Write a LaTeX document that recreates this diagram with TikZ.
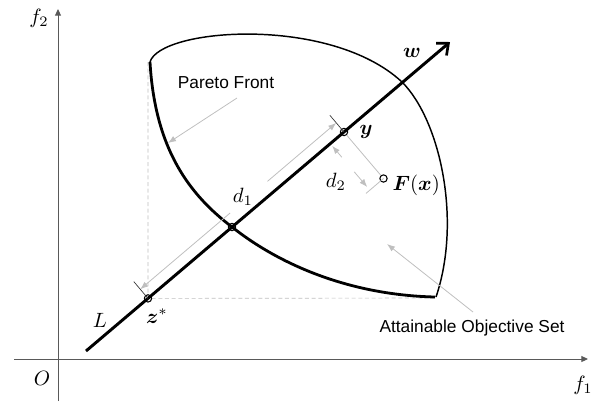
\documentclass[tikz,border=0pt]{standalone}
\usepackage{amsmath,amssymb}
\usepackage{fontspec}
\newfontfamily\arial{Liberation Sans}
\usetikzlibrary{arrows.meta,calc}
\tikzset{
  >={Latex[length=6pt,width=4.5pt]},
  pt/.style={circle,draw,minimum size=5.5pt,inner sep=0pt,line width=0.8pt},
  ml/.style={scale=1.55,inner sep=1pt},
  tl/.style={font=\arial\fontsize{13}{15}\selectfont,inner sep=1pt},
  ax/.style={line width=0.7pt,black!65,-{Triangle[length=5pt,width=4.5pt]}},
  ga/.style={line width=0.6pt,black!25},
  dsh/.style={line width=0.5pt,black!25,dash pattern=on 3pt off 2pt},
  tk/.style={line width=0.5pt,black!80},
  ray/.style={line width=2.2pt,-{Straight Barb[length=7pt,width=12pt,line width=2pt]}},
  every picture/.style={line width=0.5pt},
}
\begin{document}
\begin{tikzpicture}[x=0.75pt,y=-0.75pt]
\useasboundingbox (0,0) rectangle (602,401);
% axes
\foreach \n/\x/\y in {xa/14/359,xb/588/359,ya/58/401,yb/58/9,Lb/86/351,Lt/450/42}{\coordinate (\n) at (\x,\y);}
\draw[ax] (xa)--(xb); \draw[ax] (ya)--(yb);
\node[ml] (o) at (42,378) {$O$};
\node[ml] (f1) at (583,385) {$f_1$};
\node[ml] (f2) at (39,18) {$f_2$};
% projections
\coordinate (pa) at (148,62); \coordinate (pb) at (435,298);
\draw[dsh] (pa)--(148,298.4)--(pb);
% attainable set and front
\draw[line width=1.1pt] (150,62) .. controls (160,28) and (330,15) .. (402,82)
  .. controls (440,120) and (462,220) .. (436,297);
\draw[line width=2.1pt] (150,62) .. controls (155,150) and (190,195) .. (232,227)
  .. controls (280,265) and (350,295) .. (435,297);
% the line L
\draw[ray] (Lb)--(Lt);
\foreach \n/\x/\y in {zs/148/298.4,P/232/227,yp/344/132,Fx/383.5/178.5}{\node[pt] (\n) at (\x,\y){};}
\node[ml] (w) at (412,53) {$\boldsymbol{w}$};
\node[ml] (L) at (100,320) {$L$};
\node[ml] (zl) at (157,316) {$\boldsymbol{z}^{*}$};
\node[ml] (yl) at (366,132) {$\boldsymbol{y}$};
\node[ml,anchor=west] (Fl) at (390,185) {$\boldsymbol{F}(\boldsymbol{x})$};
% d1
\foreach \n/\x/\y in {t1/133.8/281.6,t2/329.8/115.2,a1/230.1/213,b1/140.2/289.3,a2/267.5/181.3,b2/336.2/122.9}{\coordinate (\n) at (\x,\y);}
\draw[tk] (zs.center)--(t1); \draw[tk] (yp.center)--(t2);
\draw[ga,->] (a1)--(b1); \draw[ga,->] (a2)--(b2);
\node[ml] (d1) at (243,197) {$d_1$};
% d2
\foreach \n/\x/\y in {a3/341.9/157.3,b3/332.2/145.9,a4/354.2/171.8,b4/367.2/187,t3/366/193.4}{\coordinate (\n) at (\x,\y);}
\draw[ga] (yp)--(Fx); \draw[ga] (Fx.center)--(t3);
\draw[ga,->] (a3)--(b3); \draw[ga,->] (a4)--(b4);
\node[ml] (d2) at (336,182) {$d_2$};
% callouts
\node[tl] (pf) at (226,83) {Pareto Front};
\node[tl] (as) at (472,328) {Attainable Objective Set};
\coordinate (pft) at (168,143); \coordinate (ast) at (387,244);
\draw[ga,->] (237,98)--(pft); \draw[ga,->] (473,312)--(ast);
\end{tikzpicture}
\end{document}
